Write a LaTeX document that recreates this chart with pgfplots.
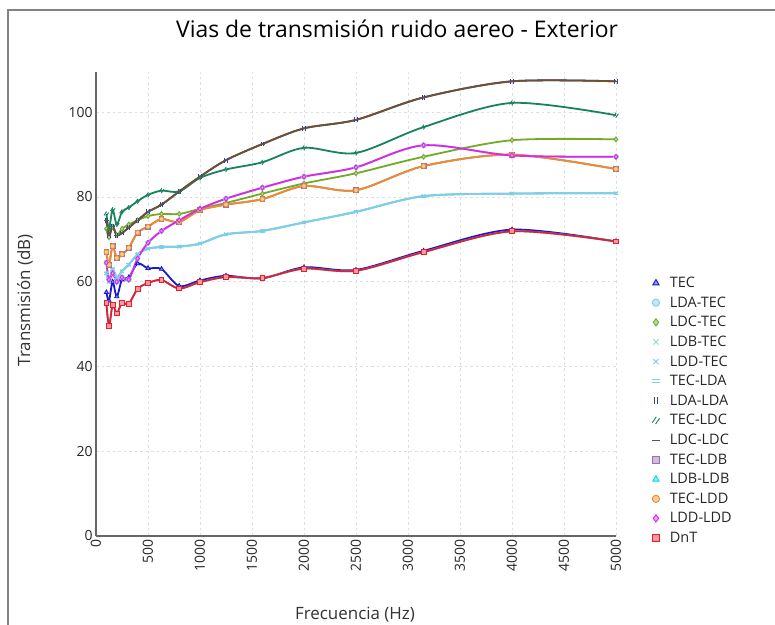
\documentclass[border=0pt]{standalone}
\usepackage{fontspec}
\setmainfont{Open Sans}
\usepackage{pgfplots}
\pgfplotsset{compat=1.18}

\pgfdeclareplotmark{eq}{%
 \pgfpathmoveto{\pgfqpoint{-\pgfplotmarksize}{0.45\pgfplotmarksize}}%
 \pgfpathlineto{\pgfqpoint{\pgfplotmarksize}{0.45\pgfplotmarksize}}%
 \pgfpathmoveto{\pgfqpoint{-\pgfplotmarksize}{-0.45\pgfplotmarksize}}%
 \pgfpathlineto{\pgfqpoint{\pgfplotmarksize}{-0.45\pgfplotmarksize}}%
 \pgfusepathqstroke}
\pgfdeclareplotmark{vv}{%
 \pgfpathmoveto{\pgfqpoint{-0.45\pgfplotmarksize}{-\pgfplotmarksize}}%
 \pgfpathlineto{\pgfqpoint{-0.45\pgfplotmarksize}{\pgfplotmarksize}}%
 \pgfpathmoveto{\pgfqpoint{0.45\pgfplotmarksize}{-\pgfplotmarksize}}%
 \pgfpathlineto{\pgfqpoint{0.45\pgfplotmarksize}{\pgfplotmarksize}}%
 \pgfusepathqstroke}
\pgfdeclareplotmark{sl}{%
 \pgfpathmoveto{\pgfqpoint{-\pgfplotmarksize}{-0.6\pgfplotmarksize}}%
 \pgfpathlineto{\pgfqpoint{0.1\pgfplotmarksize}{\pgfplotmarksize}}%
 \pgfpathmoveto{\pgfqpoint{-0.1\pgfplotmarksize}{-\pgfplotmarksize}}%
 \pgfpathlineto{\pgfqpoint{\pgfplotmarksize}{0.6\pgfplotmarksize}}%
 \pgfusepathqstroke}

\definecolor{cTEC}{RGB}{25,25,205}
\definecolor{cLDATEC}{RGB}{140,195,240}
\definecolor{cLDCTEC}{RGB}{115,170,40}
\definecolor{cLDBTEC}{RGB}{140,230,175}
\definecolor{cLDDTEC}{RGB}{120,205,235}
\definecolor{cTECLDA}{RGB}{125,205,235}
\definecolor{cLDALDA}{RGB}{40,70,170}
\definecolor{cTECLDC}{RGB}{25,130,95}
\definecolor{cLDCLDC}{RGB}{115,80,45}
\definecolor{cTECLDB}{RGB}{150,110,180}
\definecolor{cLDBLDB}{RGB}{0,220,240}
\definecolor{cTECLDD}{RGB}{240,140,40}
\definecolor{cLDDLDD}{RGB}{220,40,230}
\definecolor{cDnT}{RGB}{230,30,45}
\definecolor{frame}{RGB}{130,130,130}

\pgfplotsset{
 ser/.style 2 args={color=#1, mark=#2, smooth, line width=1.8bp,
   mark options={solid, fill=#1!45, line width=0.9bp}},
}

\begin{document}
\begin{tikzpicture}
\useasboundingbox (0,0) rectangle (775bp,625bp);
\fill[white] (0,0) rectangle (775bp,625bp);
\draw[frame, line width=1.6bp] (8bp,0bp) -- (8bp,615bp) -- (775bp,615bp);
\begin{axis}[
 at={(96bp,89bp)}, anchor=south west, scale only axis,
 width=520bp, height=464bp,
 xmin=0, xmax=5000, ymin=0, ymax=109.5,
 clip=false,
 axis lines=left,
 axis line style={draw=black!60, line width=1.3bp, -},
 xtick={0,500,...,5000}, ytick={0,20,...,100},
 major tick length=0pt,
 grid=major,
 grid style={draw=black!13, line width=0.8bp, dash pattern=on 2.5bp off 3bp},
 /pgf/number format/assume math mode=true,
 /pgf/number format/1000 sep={},
 scaled x ticks=false,
 xticklabel style={rotate=90, anchor=east, font=\fontsize{14}{16}\selectfont, text=black!85},
 yticklabel style={font=\fontsize{14}{16}\selectfont, text=black!85},
 title={Vias de transmisión ruido aereo - Exterior},
 title style={at={(axis description cs:0.579,1)}, anchor=center, yshift=37bp, font=\fontsize{23}{26}\selectfont},
 xlabel={Frecuencia (Hz)},
 ylabel={Transmisión (dB)},
 every axis x label/.style={at={(axis description cs:0.498,0)}, anchor=center, yshift=-79bp, font=\fontsize{17}{20}\selectfont, text=black!80},
 every axis y label/.style={at={(axis description cs:-0.1365,0.508)}, rotate=90, anchor=center, font=\fontsize{17}{20}\selectfont, text=black!80},
 legend style={at={(1.063,0.567)}, anchor=north west, draw=none, fill=none,
   font=\fontsize{14.5}{16}\selectfont, row sep=3.7bp, text=black!85},
 legend cell align=left,
 legend image code/.code={\path[draw=none] (0bp,0bp) (16bp,0bp); \draw[#1, sharp plot, mark size=3.6bp] plot coordinates {(4bp,0bp)};},
 mark size=2.4bp,
]
\addplot[ser={cTEC}{triangle*}] coordinates {(100,57.5)(125,55.5)(160,60)(200,56.5)(250,60.5)(315,61)(400,64.3)(500,63.2)(630,63)(800,59)(1000,60.3)(1250,61.4)(1600,60.8)(2000,63.4)(2500,62.8)(3150,67.3)(4000,72.3)(5000,69.5)};
\addlegendentry{TEC}
\addplot[ser={cLDATEC}{*}] coordinates {(100,64.5)(125,60.5)(160,62)(200,60)(250,61)(315,60.5)(400,65.5)(500,69.2)(630,72)(800,74.5)(1000,77.2)(1250,79.6)(1600,82.2)(2000,84.8)(2500,87)(3150,92.2)(4000,89.8)(5000,89.5)};
\addlegendentry{LDA-TEC}
\addplot[ser={cLDCTEC}{diamond*}] coordinates {(100,72.5)(125,70.5)(160,73)(200,71)(250,72.5)(315,73.5)(400,74.5)(500,75.5)(630,76)(800,76)(1000,77.2)(1250,78.6)(1600,80.8)(2000,83.2)(2500,85.6)(3150,89.5)(4000,93.4)(5000,93.6)};
\addlegendentry{LDC-TEC}
\addplot[ser={cLDBTEC}{x}] coordinates {(100,62)(125,60)(160,63)(200,61)(250,62.5)(315,64)(400,66.5)(500,67.8)(630,68.2)(800,68.3)(1000,69)(1250,71.2)(1600,72)(2000,74)(2500,76.5)(3150,80.2)(4000,80.8)(5000,80.9)};
\addlegendentry{LDB-TEC}
\addplot[ser={cLDDTEC}{x}] coordinates {(100,62)(125,60)(160,63)(200,61)(250,62.5)(315,64)(400,66.5)(500,67.8)(630,68.2)(800,68.3)(1000,69)(1250,71.2)(1600,72)(2000,74)(2500,76.5)(3150,80.2)(4000,80.8)(5000,80.9)};
\addlegendentry{LDD-TEC}
\addplot[ser={cTECLDA}{eq}] coordinates {(100,62)(125,60)(160,63)(200,61)(250,62.5)(315,64)(400,66.5)(500,67.8)(630,68.2)(800,68.3)(1000,69)(1250,71.2)(1600,72)(2000,74)(2500,76.5)(3150,80.2)(4000,80.8)(5000,80.9)};
\addlegendentry{TEC-LDA}
\addplot[ser={cLDALDA}{vv}] coordinates {(100,74.5)(125,71)(160,73)(200,71)(250,71.5)(315,72.8)(400,74.5)(500,76.5)(630,78.2)(800,81.3)(1000,84.8)(1250,88.7)(1600,92.5)(2000,96.2)(2500,98.2)(3150,103.5)(4000,107.3)(5000,107.3)};
\addlegendentry{LDA-LDA}
\addplot[ser={cTECLDC}{sl}] coordinates {(100,76)(125,72.5)(160,77)(200,73.5)(250,76.5)(315,77.5)(400,79)(500,80.5)(630,81.5)(800,81.3)(1000,84.5)(1250,86.5)(1600,88.2)(2000,91.6)(2500,90.4)(3150,96.5)(4000,102.2)(5000,99.3)};
\addlegendentry{TEC-LDC}
\addplot[ser={cLDCLDC}{-}] coordinates {(100,74.5)(125,71)(160,73)(200,71)(250,71.5)(315,72.8)(400,74.5)(500,76.5)(630,78.2)(800,81.3)(1000,84.8)(1250,88.7)(1600,92.5)(2000,96.2)(2500,98.2)(3150,103.5)(4000,107.3)(5000,107.3)};
\addlegendentry{LDC-LDC}
\addplot[ser={cTECLDB}{square*}] coordinates {(100,67)(125,64)(160,68.4)(200,65.6)(250,66.5)(315,68)(400,71.6)(500,73)(630,74.8)(800,74.1)(1000,76.9)(1250,78.2)(1600,79.5)(2000,82.6)(2500,81.6)(3150,87.3)(4000,90)(5000,86.6)};
\addlegendentry{TEC-LDB}
\addplot[ser={cLDBLDB}{triangle*}] coordinates {(100,55)(125,49.5)(160,54.5)(200,52.5)(250,55)(315,54.8)(400,58.3)(500,59.7)(630,60.4)(800,58.4)(1000,59.9)(1250,61.1)(1600,60.9)(2000,63.1)(2500,62.6)(3150,67)(4000,71.9)(5000,69.5)};
\addlegendentry{LDB-LDB}
\addplot[ser={cTECLDD}{*}] coordinates {(100,67)(125,64)(160,68.4)(200,65.6)(250,66.5)(315,68)(400,71.6)(500,73)(630,74.8)(800,74.1)(1000,76.9)(1250,78.2)(1600,79.5)(2000,82.6)(2500,81.6)(3150,87.3)(4000,90)(5000,86.6)};
\addlegendentry{TEC-LDD}
\addplot[ser={cLDDLDD}{diamond*}] coordinates {(100,64.5)(125,60.5)(160,62)(200,60)(250,61)(315,60.5)(400,65.5)(500,69.2)(630,72)(800,74.5)(1000,77.2)(1250,79.6)(1600,82.2)(2000,84.8)(2500,87)(3150,92.2)(4000,89.8)(5000,89.5)};
\addlegendentry{LDD-LDD}
\addplot[ser={cDnT}{square*}] coordinates {(100,55)(125,49.5)(160,54.5)(200,52.5)(250,55)(315,54.8)(400,58.3)(500,59.7)(630,60.4)(800,58.4)(1000,59.9)(1250,61.1)(1600,60.9)(2000,63.1)(2500,62.6)(3150,67)(4000,71.9)(5000,69.5)};
\addlegendentry{DnT}
\end{axis}
\end{tikzpicture}
\end{document}
